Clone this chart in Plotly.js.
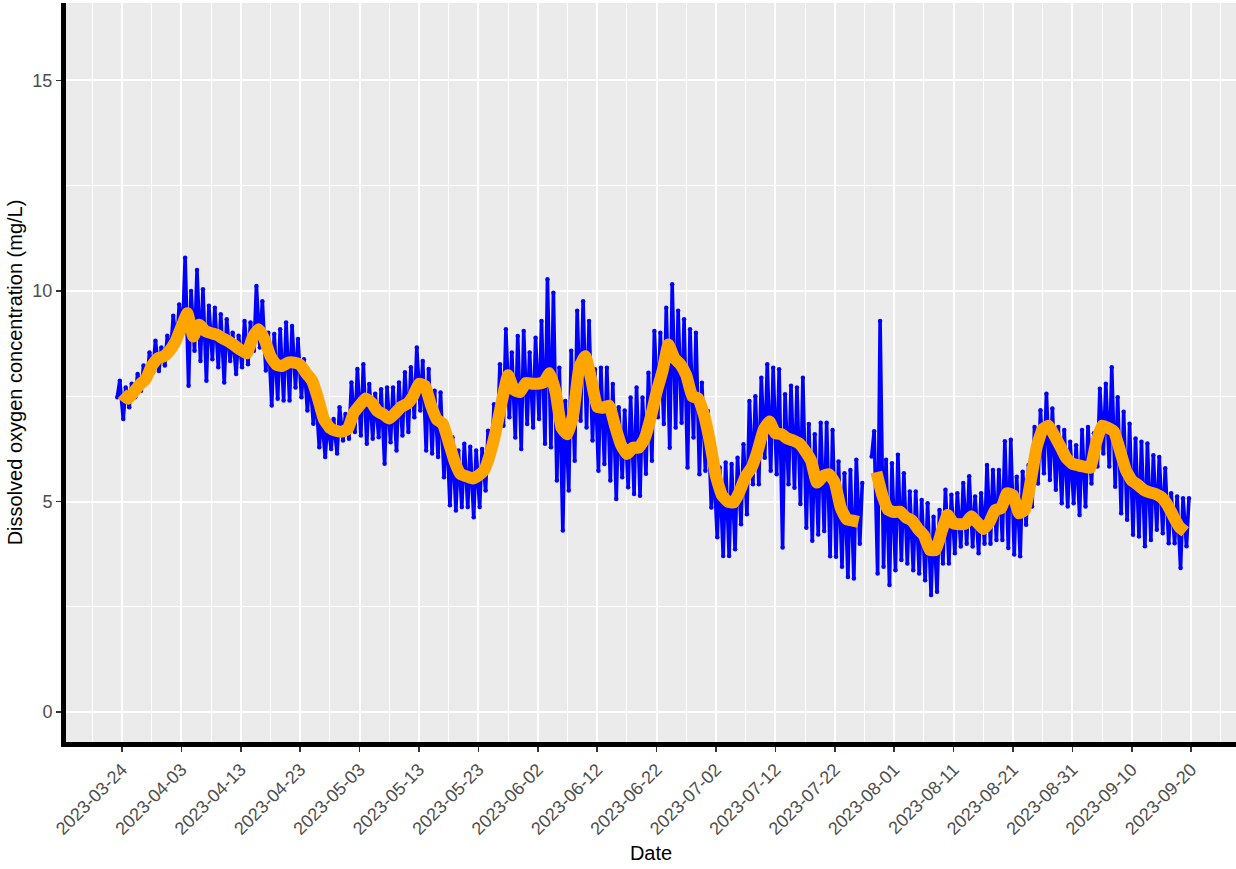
<!DOCTYPE html>
<html><head><meta charset="utf-8">
<script src="https://cdn.plot.ly/plotly-3.0.1.min.js"></script>
<style>html,body{margin:0;padding:0;background:#fff}#chart{width:1236px;height:869px}</style>
</head><body><div id="chart"></div>
<script>
// Daily records, 2023-03-23 .. 2023-09-19
const days = [
'2023-03-23','2023-03-24','2023-03-25','2023-03-26','2023-03-27','2023-03-28','2023-03-29','2023-03-30','2023-03-31',
'2023-04-01','2023-04-02','2023-04-03','2023-04-04','2023-04-05','2023-04-06','2023-04-07','2023-04-08','2023-04-09','2023-04-10',
'2023-04-11','2023-04-12','2023-04-13','2023-04-14','2023-04-15','2023-04-16','2023-04-17','2023-04-18','2023-04-19','2023-04-20',
'2023-04-21','2023-04-22','2023-04-23','2023-04-24','2023-04-25','2023-04-26','2023-04-27','2023-04-28','2023-04-29','2023-04-30',
'2023-05-01','2023-05-02','2023-05-03','2023-05-04','2023-05-05','2023-05-06','2023-05-07','2023-05-08','2023-05-09','2023-05-10',
'2023-05-11','2023-05-12','2023-05-13','2023-05-14','2023-05-15','2023-05-16','2023-05-17','2023-05-18','2023-05-19','2023-05-20',
'2023-05-21','2023-05-22','2023-05-23','2023-05-24','2023-05-25','2023-05-26','2023-05-27','2023-05-28','2023-05-29','2023-05-30','2023-05-31',
'2023-06-01','2023-06-02','2023-06-03','2023-06-04','2023-06-05','2023-06-06','2023-06-07','2023-06-08','2023-06-09','2023-06-10',
'2023-06-11','2023-06-12','2023-06-13','2023-06-14','2023-06-15','2023-06-16','2023-06-17','2023-06-18','2023-06-19','2023-06-20',
'2023-06-21','2023-06-22','2023-06-23','2023-06-24','2023-06-25','2023-06-26','2023-06-27','2023-06-28','2023-06-29','2023-06-30',
'2023-07-01','2023-07-02','2023-07-03','2023-07-04','2023-07-05','2023-07-06','2023-07-07','2023-07-08','2023-07-09','2023-07-10',
'2023-07-11','2023-07-12','2023-07-13','2023-07-14','2023-07-15','2023-07-16','2023-07-17','2023-07-18','2023-07-19','2023-07-20',
'2023-07-21','2023-07-22','2023-07-23','2023-07-24','2023-07-25','2023-07-26','2023-07-27','2023-07-28','2023-07-29','2023-07-30','2023-07-31',
'2023-08-01','2023-08-02','2023-08-03','2023-08-04','2023-08-05','2023-08-06','2023-08-07','2023-08-08','2023-08-09','2023-08-10',
'2023-08-11','2023-08-12','2023-08-13','2023-08-14','2023-08-15','2023-08-16','2023-08-17','2023-08-18','2023-08-19','2023-08-20',
'2023-08-21','2023-08-22','2023-08-23','2023-08-24','2023-08-25','2023-08-26','2023-08-27','2023-08-28','2023-08-29','2023-08-30','2023-08-31',
'2023-09-01','2023-09-02','2023-09-03','2023-09-04','2023-09-05','2023-09-06','2023-09-07','2023-09-08','2023-09-09','2023-09-10',
'2023-09-11','2023-09-12','2023-09-13','2023-09-14','2023-09-15','2023-09-16','2023-09-17','2023-09-18','2023-09-19'
];
// daily maximum of the high-frequency DO record (mg/L)
const doMax = [
7.87,7.71,7.8,8.03,8.23,8.54,8.82,8.66,8.94,
9.41,9.68,10.79,10.0,10.5,10.04,9.65,9.6,9.45,9.33,9.01,8.94,9.29,9.25,10.12,9.76,9.01,8.98,9.09,9.25,9.17,8.86,8.38,7.99,7.56,7.04,6.92,6.96,7.24,7.08,
7.83,8.15,8.26,7.79,7.56,7.67,7.71,7.71,7.83,8.07,8.19,8.66,8.34,8.15,7.63,7.59,6.85,6.53,6.21,6.37,6.3,6.21,6.25,6.68,7.31,8.26,9.09,8.54,8.93,9.05,8.54,
8.89,9.29,10.28,9.96,8.18,7.39,8.58,9.53,9.76,9.29,8.14,8.18,8.18,7.79,7.24,7.16,7.47,7.71,7.47,8.06,9.05,9.01,9.6,10.16,9.53,9.33,9.09,9.01,7.82,7.15,
5.89,5.81,5.93,5.89,6.04,6.36,7.39,7.5,7.94,8.26,8.18,8.14,7.55,7.75,7.71,7.94,6.84,6.6,6.87,6.87,6.7,5.95,5.67,5.75,5.99,5.44,null,6.67,9.29,5.99,5.91,
6.11,5.67,5.24,5.24,5.04,4.96,4.64,4.8,5.28,5.16,5.2,5.44,5.6,5.12,5.2,5.87,5.75,5.75,6.43,6.47,5.59,5.71,5.87,6.77,7.17,7.56,7.21,6.77,6.7,6.42,6.34,
6.7,6.77,6.62,7.68,7.8,8.19,7.48,7.13,6.85,6.5,6.42,6.38,6.1,6.06,5.79,5.2,5.12,5.08,5.08
];
// daily minimum of the high-frequency DO record (mg/L)
const doMin = [
7.48,6.96,7.24,7.48,7.63,7.83,8.07,8.1,8.23,
8.58,8.7,9.05,7.75,8.58,8.34,7.87,8.38,8.19,7.83,8.34,8.03,8.19,8.26,8.58,8.66,8.11,7.28,7.44,7.4,7.4,7.71,7.48,7.16,6.85,6.29,6.06,6.25,6.14,6.45,
6.49,6.65,6.57,6.37,6.49,6.53,5.9,6.41,6.21,6.57,6.65,7.0,7.16,6.21,6.14,6.06,5.58,4.91,4.79,4.87,4.87,4.63,4.87,5.26,5.97,6.6,6.8,7.0,6.52,6.25,6.84,
6.76,6.96,6.37,6.29,5.5,4.31,5.26,5.97,6.92,6.76,6.45,5.73,5.89,5.5,5.06,5.58,5.34,5.18,5.14,5.66,5.97,7.0,6.84,6.28,6.76,6.87,5.81,6.52,5.65,5.73,
4.86,4.15,3.71,3.71,3.87,4.46,4.7,5.41,5.41,6.04,5.73,5.65,3.91,5.41,5.33,4.94,4.38,4.07,4.22,4.3,3.7,3.69,3.45,3.21,3.17,4.0,null,6.07,3.29,3.45,3.02,
3.37,3.61,3.53,3.37,3.29,3.13,2.78,2.86,3.53,3.53,3.77,3.93,4.0,3.93,3.77,4.0,4.0,4.09,4.09,3.9,3.74,3.7,4.45,4.88,5.43,5.67,5.51,5.28,4.96,4.88,4.96,
4.68,4.88,5.43,5.83,6.14,5.83,5.35,4.72,4.57,4.21,4.17,3.94,4.09,4.33,4.25,4.01,4.01,3.42,3.94
];
// smoothed daily mean (orange line, mg/L)
const doMean = [
null,7.56,7.44,7.6,7.78,7.91,8.22,8.4,8.45,
8.58,8.8,9.15,9.47,8.92,9.2,9.05,9.0,8.96,8.87,8.8,8.7,8.6,8.52,8.9,9.09,8.85,8.45,8.25,8.22,8.3,8.3,8.25,8.05,7.87,7.45,6.95,6.75,6.68,6.66,
6.72,7.1,7.28,7.45,7.35,7.15,7.07,6.97,7.1,7.25,7.32,7.5,7.8,7.75,7.3,6.95,6.85,6.41,5.95,5.65,5.6,5.55,5.62,5.75,6.15,6.72,7.42,8.0,7.65,7.6,7.82,
7.8,7.8,7.83,8.05,7.6,6.75,6.6,7.1,8.2,8.45,7.9,7.25,7.23,7.28,6.8,6.35,6.13,6.28,6.28,6.5,6.99,7.6,8.1,8.73,8.4,8.26,8.0,7.5,7.45,7.05,
6.4,5.6,5.15,5.0,4.98,5.25,5.6,5.81,6.2,6.7,6.9,6.62,6.6,6.5,6.45,6.38,6.2,5.97,5.45,5.6,5.65,5.45,4.85,4.58,4.55,4.52,null,null,5.7,5.15,4.8,
4.75,4.76,4.62,4.55,4.35,4.2,3.85,3.85,4.3,4.68,4.48,4.46,4.48,4.65,4.5,4.35,4.5,4.8,4.84,5.2,5.15,4.72,4.8,5.5,6.3,6.72,6.8,6.56,6.3,6.03,5.9,
5.86,5.83,5.8,6.4,6.8,6.75,6.66,6.22,5.75,5.5,5.4,5.28,5.22,5.18,5.1,4.92,4.65,4.4,4.28
];
const xTitle = 'Date';
const yTitle = 'Dissolved oxygen concentration (mg/L)';

// blue diel trace: daily minimum in the morning, maximum in the afternoon
const bx = [], by = [];
days.forEach((d, i) => {
  if (doMin[i] === null || doMax[i] === null) { bx.push(d + ' 12:00'); by.push(null); return; }
  bx.push(d + ' 05:00'); by.push(doMin[i]);
  bx.push(d + ' 15:00'); by.push(doMax[i]);
});

const traces = [
  {x: bx, y: by, type: 'scatter', mode: 'lines+markers', connectgaps: false,
   line: {color: '#0000FF', width: 3.6},
   marker: {color: '#0000FF', size: 4.5}, hoverinfo: 'skip'},
  {x: days, y: doMean, type: 'scatter', mode: 'lines', connectgaps: false,
   line: {color: '#FFA500', width: 12, shape: 'spline', smoothing: 0.4}, hoverinfo: 'skip'}
];

const DAY = 86400000;
const layout = {
  width: 1236, height: 869,
  margin: {l: 66, r: 0, t: 3, b: 127},
  paper_bgcolor: '#FFFFFF', plot_bgcolor: '#EBEBEB',
  showlegend: false,
  font: {family: '"Liberation Sans", Arial, sans-serif', color: '#000'},
  xaxis: {
    type: 'date', range: ['2023-03-14 13:40', '2023-09-27 13:00'],
    tick0: '2023-03-24', dtick: 10 * DAY, tickformat: '%Y-%m-%d', tickangle: -45,
    ticks: 'outside', ticklen: 5, tickwidth: 1.5, tickcolor: '#333333',
    tickfont: {size: 18, color: '#4D4D4D'},
    showgrid: true, gridcolor: '#FFFFFF', gridwidth: 2,
    minor: {tick0: '2023-03-24', dtick: 5 * DAY, showgrid: true, gridcolor: '#FFFFFF', gridwidth: 1},
    showline: true, linecolor: '#000000', linewidth: 5, zeroline: false,
    title: {text: xTitle, font: {size: 20, color: '#000'}, standoff: 10}
  },
  yaxis: {
    range: [-0.71, 16.84], tick0: 0, dtick: 5,
    ticks: 'outside', ticklen: 5, tickwidth: 1.5, tickcolor: '#333333',
    tickfont: {size: 18, color: '#4D4D4D'},
    showgrid: true, gridcolor: '#FFFFFF', gridwidth: 2,
    minor: {tick0: 0, dtick: 2.5, showgrid: true, gridcolor: '#FFFFFF', gridwidth: 1},
    showline: true, linecolor: '#000000', linewidth: 5, zeroline: false,
    title: {text: yTitle, font: {size: 20, color: '#000'}, standoff: 6}
  }
};
Plotly.newPlot('chart', traces, layout, {displayModeBar: false, staticPlot: true});
</script>
</body></html>
